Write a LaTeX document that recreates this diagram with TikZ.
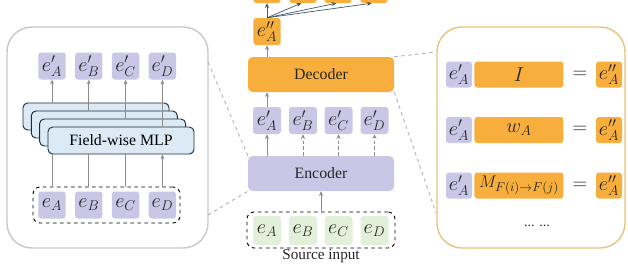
\documentclass[tikz,border=0pt]{standalone}
\usepackage{fontspec}
\setmainfont{Liberation Serif}
\usetikzlibrary{arrows.meta, positioning, calc}

\definecolor{lavbox}{HTML}{C9C6E6}
\definecolor{orabox}{HTML}{F7AE3D}
\definecolor{grnbox}{HTML}{E2F0D9}
\definecolor{mlpfill}{HTML}{DCEAF6}
\definecolor{mlpline}{HTML}{1F2D3A}
\definecolor{panelgray}{HTML}{C8C8C8}
\definecolor{paneltan}{HTML}{E6C380}
\definecolor{arrowgray}{HTML}{8C8C8C}
\definecolor{fanblue}{HTML}{3E5A6A}
\definecolor{inktext}{HTML}{262626}

\begin{document}
\begin{tikzpicture}[
    x=0.03cm, y=-0.03cm,
    emb/.style={rectangle, rounded corners=2.5pt, inner sep=0pt, minimum width=0.82cm, minimum height=0.81cm, text=inktext, font=\fontsize{18}{20}\selectfont},
    pbox/.style={emb, fill=lavbox},
    obox/.style={emb, fill=orabox},
    gbox/.style={emb, fill=grnbox, minimum width=0.84cm, minimum height=0.87cm},
    bigbox/.style={rectangle, rounded corners=4pt, inner sep=0pt, minimum width=4.38cm, minimum height=1.05cm, text=inktext, font=\fontsize{13.5}{15}\selectfont},
    mlpbox/.style={rectangle, draw=mlpline, thick, fill=mlpfill, rounded corners=4pt, minimum width=4.38cm, minimum height=0.81cm, font=\fontsize{13.5}{15}\selectfont},
    group/.style={rectangle, draw=black, thick, dashed, rounded corners=6pt, minimum height=1.08cm},
    panel/.style={rectangle, line width=1.2pt, rounded corners=0.75cm, minimum width=6.03cm, minimum height=6.63cm},
    arrow/.style={-{Stealth[length=4pt, width=3.5pt]}, arrowgray, semithick},
    line/.style={arrowgray, semithick},
    fan/.style={-{Stealth[length=4pt, width=3.5pt]}, fanblue, semithick},
    connector/.style={panelgray!90!black, dashed, thick}
]
    \useasboundingbox (0,0) rectangle (628,267);
    \clip (0,0) rectangle (628,267);

    % Left panel: field-wise encoder detail
    \node (lpanel) [panel, draw=panelgray] at (107.5,137.5) {};
    \node (lepa) [pbox] at (52,66) {$e'_A$};
    \node (lepb) [pbox, right=0.27cm of lepa] {$e'_B$};
    \node (lepc) [pbox, right=0.27cm of lepb] {$e'_C$};
    \node (lepd) [pbox, right=0.27cm of lepc] {$e'_D$};

    % Stacked MLP layers (back to front)
    \node (mlpa) [mlpbox] at (96,116.5) {};
    \node (mlpb) [mlpbox] at (104.3,124.5) {};
    \node (mlpc) [mlpbox] at (112.6,132.5) {};
    \node (mlpd) [mlpbox] at (121,140.5) {Field-wise MLP};

    % Field inputs
    \node (lgrp) [group, minimum width=4.41cm] at (106.5,205) {};
    \node (lea) [pbox] at (52,205) {$e_A$};
    \node (leb) [pbox, right=0.27cm of lea] {$e_B$};
    \node (lec) [pbox, right=0.27cm of leb] {$e_C$};
    \node (led) [pbox, right=0.27cm of lec] {$e_D$};

    \draw [arrow] (mlpa.north -| lepa.south) -- (lepa.south);
    \draw [arrow] (mlpb.north -| lepb.south) -- (lepb.south);
    \draw [arrow] (mlpc.north -| lepc.south) -- (lepc.south);
    \draw [arrow] (mlpd.north -| lepd.south) -- (lepd.south);
    \draw [line] (lgrp.north -| lea.north) -- (mlpd.south -| lea.north);
    \draw [line] (lgrp.north -| leb.north) -- (mlpd.south -| leb.north);
    \draw [line] (lgrp.north -| lec.north) -- (mlpd.south -| lec.north);
    \draw [arrow] (lgrp.north -| led.north) -- (mlpd.south -| led.north);

    % Middle column: encoder and decoder
    \node (topa) [obox] at (267,-10.5) {};
    \node (topb) [obox] at (303,-10.5) {};
    \node (topc) [obox] at (338,-10.5) {};
    \node (topd) [obox] at (374,-10.5) {};
    \node (epp) [obox] at (267,31.5) {$e''_A$};
    \node (dec) [bigbox, fill=orabox] at (321,74.5) {Decoder};
    \node (mepa) [pbox, minimum width=0.84cm] at (267,120.5) {$e'_A$};
    \node (mepb) [pbox, minimum width=0.84cm] at (303,120.5) {$e'_B$};
    \node (mepc) [pbox, minimum width=0.84cm] at (338.5,120.5) {$e'_C$};
    \node (mepd) [pbox, minimum width=0.84cm] at (374.5,120.5) {$e'_D$};
    \node (enc) [bigbox, fill=lavbox] at (321,173.5) {Encoder};
    \node (src) [group, minimum width=4.44cm] at (321,230) {};
    \node (sea) [gbox] at (267,230.5) {$e_A$};
    \node (seb) [gbox] at (303,230.5) {$e_B$};
    \node (sec) [gbox] at (338.5,230.5) {$e_C$};
    \node (sed) [gbox] at (374.5,230.5) {$e_D$};
    \node (srclabel) [below=0pt of src, inner sep=1pt, text=inktext, font=\fontsize{13}{14}\selectfont] {Source input};

    \draw [arrow] (src.north) -- (enc.south);
    \draw [arrow] (enc.north -| mepa.south) -- (mepa.south);
    \draw [arrow, densely dashed] (enc.north -| mepb.south) -- (mepb.south);
    \draw [arrow, densely dashed] (enc.north -| mepc.south) -- (mepc.south);
    \draw [arrow, densely dashed] (enc.north -| mepd.south) -- (mepd.south);
    \draw [arrow] (mepa.north) -- (dec.south -| mepa.north);
    \draw [arrow] (dec.north -| epp.south) -- (epp.south);
    \draw [fan] (epp.north) -- (topa.south);
    \draw [fan] (epp.north) -- ([xshift=-1.5]topb.south);
    \draw [fan] (epp.north) -- ([xshift=-1.5]topc.south);
    \draw [fan] (epp.north) -- ([xshift=-2]topd.south);

    % Right panel: decoder variants
    \node (rpanel) [panel, draw=paneltan, minimum width=5.64cm] at (531,137.5) {};
    \node (ria) [pbox, minimum width=0.78cm, minimum height=0.78cm] at (459,74.5) {$e'_A$};
    \node (riw) [obox, minimum width=2.67cm, minimum height=0.78cm, right=0.06cm of ria] {$I$};
    \node (rieq) [text=inktext, font=\fontsize{18}{20}\selectfont] at (580,74.5) {$=$};
    \node (rio) [obox, minimum width=0.78cm, minimum height=0.78cm] at (609,74.5) {$e''_A$};

    \node (rwa) [pbox, minimum width=0.78cm, minimum height=0.78cm] at (459,130) {$e'_A$};
    \node (rww) [obox, minimum width=2.67cm, minimum height=0.78cm, right=0.06cm of rwa] {$w_A$};
    \node (rweq) [text=inktext, font=\fontsize{18}{20}\selectfont] at (580,130) {$=$};
    \node (rwo) [obox, minimum width=0.78cm, minimum height=0.78cm] at (609,130) {$e''_A$};

    \node (rma) [pbox, minimum width=0.78cm, minimum height=0.78cm] at (459,185.5) {$e'_A$};
    \node (rmw) [obox, minimum width=2.67cm, minimum height=0.78cm, right=0.06cm of rma, font=\fontsize{15.5}{17}\selectfont] {$M_{F(i)\to F(j)}$};
    \node (rmeq) [text=inktext, font=\fontsize{18}{20}\selectfont] at (580,185.5) {$=$};
    \node (rmo) [obox, minimum width=0.78cm, minimum height=0.78cm] at (609,185.5) {$e''_A$};

    \node (rdots) [text=inktext, font=\fontsize{12}{14}\selectfont] at (537,226) {... ...};

    % Zoom connectors
    \coordinate (lptop) at (208,62);
    \coordinate (lpbot) at (208,215);
    \coordinate (rptop) at (436,52);
    \coordinate (rpbot) at (436,213);
    \draw [connector] (lptop) -- (enc.north west);
    \draw [connector] (lpbot) -- (enc.south west);
    \draw [connector] (dec.north east) -- (rptop);
    \draw [connector] (dec.south east) -- (rpbot);
\end{tikzpicture}
\end{document}
